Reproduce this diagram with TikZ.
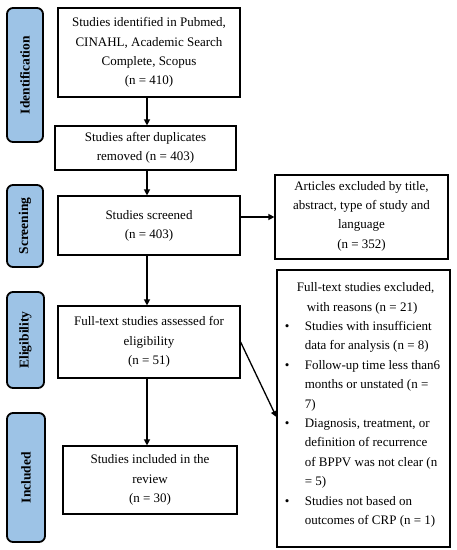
\documentclass[tikz,border=0pt]{standalone}
\usepackage{fontspec}
\setmainfont{Liberation Serif}
\usetikzlibrary{arrows.meta}
\definecolor{sideblue}{HTML}{9DC3E6}
\tikzset{
  box/.style={draw=black, line width=1.2pt, fill=white, align=center, inner sep=2pt,
    font=\fontsize{13}{19.2}\selectfont},
  side/.style={draw=black, line width=1.8pt, fill=sideblue, rounded corners=6pt,
    rotate=90, inner sep=0pt, font=\fontsize{13.5}{14}\selectfont\bfseries},
  arr/.style={line width=1.3pt, -{Triangle[length=6pt,width=6pt]}}
}
\newcommand{\bul}{\hspace*{-2pt}\makebox[20pt][l]{\textbullet}}
\newcommand{\cont}{\hspace*{18pt}}
\begin{document}
\begin{tikzpicture}[x=1pt,y=-1pt]
\useasboundingbox (0,0) rectangle (457,550);
% side labels
\node[side, minimum width=134pt, minimum height=36pt] (sid) at (25,75) {Identification};
\node[side, minimum width=82pt, minimum height=36pt] (ssc) at (25,226) {Screening};
\node[side, minimum width=96pt, minimum height=37pt] (sel) at (25.5,340) {Eligibility};
\node[side, minimum width=129pt, minimum height=38pt] (sin) at (26,477.5) {Included};
% main boxes
\node[box, minimum width=182pt, minimum height=89pt] (b1) at (149,52.5)
  {Studies identified in Pubmed,\\CINAHL, Academic Search\\Complete, Scopus\\(n = 410)};
\node[box, minimum width=181pt, minimum height=44pt] (b2) at (145.5,148)
  {Studies after duplicates\\removed (n = 403)};
\node[box, minimum width=182pt, minimum height=59pt] (b3) at (149,225.5)
  {Studies screened\\(n = 403)};
\node[box, minimum width=182pt, minimum height=72pt] (b4) at (149,342)
  {Full-text studies assessed for\\eligibility\\(n = 51)};
\node[box, minimum width=174pt, minimum height=68pt] (b5) at (150,480)
  {Studies included in the\\review\\(n = 30)};
% right boxes
\node[box, minimum width=173pt, minimum height=84pt] (e1) at (361.5,217)
  {\\[-12pt]Articles excluded by title,\\abstract, type of study and\\language\\(n = 352)};
\node[draw=black, line width=1.2pt, fill=white, minimum width=173pt, minimum height=277pt,
  inner sep=2pt, align=left, font=\fontsize{13}{19.4}\selectfont] (e2) at (363.5,408.5)
  {\hspace*{10pt}Full-text studies excluded,\\
   \hspace*{20pt}with reasons (n = 21)\\
   \bul Studies with insufficient\\
   \cont data for analysis (n = 8)\\
   \bul Follow-up time less than6\\
   \cont months or unstated (n =\\
   \cont 7)\\
   \bul Diagnosis, treatment, or\\
   \cont definition of recurrence\\
   \cont of BPPV was not clear (n\\
   \cont = 5)\\
   \bul Studies not based on\\
   \cont outcomes of CRP (n = 1)\\[-9.4pt]};
% connectors
\coordinate (ax) at (147,0);
\draw[arr] (b1.south -| ax) -- (b2.north -| ax);
\draw[arr] (b2.south -| ax) -- (b3.north -| ax);
\draw[arr] (b3.south -| ax) -- (b4.north -| ax);
\draw[arr] (b4.south -| ax) -- (b5.north -| ax);
\draw[arr] (b3.east |- e1.west) -- (e1.west);
\draw[arr] (b4.east) -- ([yshift=-8.5pt]e2.west);
\end{tikzpicture}
\end{document}
